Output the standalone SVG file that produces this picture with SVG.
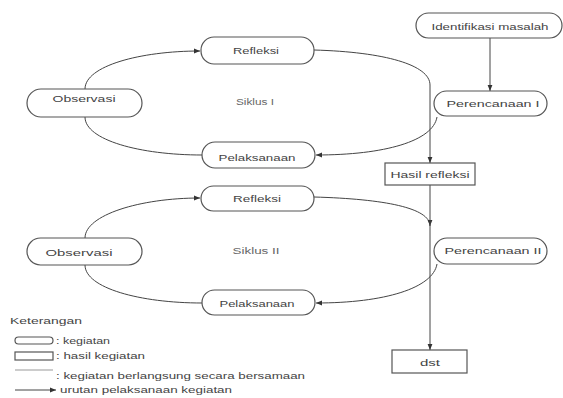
<svg xmlns="http://www.w3.org/2000/svg" width="563" height="398" viewBox="0 0 563 398">
<defs>
<marker id="arr" viewBox="0 0 10 10" refX="10" refY="5" markerWidth="6" markerHeight="6" markerUnits="userSpaceOnUse" orient="auto">
<path d="M0,1 L10,5 L0,9 Z" fill="#333"/>
</marker>
<style>
.n{fill:#fff;stroke:#555;stroke-width:1.2}
.t{font-family:"Liberation Sans",Arial,sans-serif;font-size:9px;fill:#444;text-anchor:middle}
.s{font-family:"Liberation Sans",Arial,sans-serif;font-size:8.5px;fill:#666;text-anchor:middle}
.l{font-family:"Liberation Sans",Arial,sans-serif;font-size:9px;fill:#444}
.c{fill:none;stroke:#444;stroke-width:1}
.a{fill:none;stroke:#444;stroke-width:1;marker-end:url(#arr)}
</style>
</defs>
<rect width="563" height="398" fill="#fff"/>

<g id="connectors">
<path class="a" d="M490,38 L490,91"/>
<path class="a" d="M85,89 C85,66 140,51 200,51"/>
<path class="c" d="M85,117 C85,140 140,155 202,155"/>
<path class="a" d="M314,50 C385,52 430,65 430,85 L430,163"/>
<path class="a" d="M437,117 C433,141 385,155 316,155"/>
<path class="a" d="M85,238 C85,215 140,198 200,198"/>
<path class="c" d="M85,265 C85,288 140,303 202,303"/>
<path class="a" d="M314,197 C385,199 430,208 430,226"/>
<path class="a" d="M430,185 L430,350"/>
<path class="a" d="M437,264 C433,288 385,303 316,303"/>
</g>

<g id="identifikasi">
<rect class="n" x="416" y="13" width="146" height="25" rx="12.5"/>
<text class="t" x="490" y="29.5" textLength="117" lengthAdjust="spacingAndGlyphs">Identifikasi masalah</text>
</g>
<g id="perencanaan1">
<rect class="n" x="434" y="91" width="113" height="25" rx="12.5"/>
<text class="t" x="493" y="106.5" textLength="93" lengthAdjust="spacingAndGlyphs">Perencanaan I</text>
</g>
<g id="refleksi1">
<rect class="n" x="201" y="37" width="113" height="27" rx="13"/>
<text class="t" x="256" y="53.5" textLength="46" lengthAdjust="spacingAndGlyphs">Refleksi</text>
</g>
<g id="observasi1">
<rect class="n" x="27" y="89" width="115" height="28" rx="14"/>
<text class="t" x="84" y="102" textLength="63" lengthAdjust="spacingAndGlyphs">Observasi</text>
</g>
<g id="siklus1">
<text class="s" x="255" y="105" textLength="38" lengthAdjust="spacingAndGlyphs">Siklus I</text>
</g>
<g id="pelaksanaan1">
<rect class="n" x="202" y="142" width="113" height="26" rx="13"/>
<text class="t" x="257" y="160.5" textLength="77" lengthAdjust="spacingAndGlyphs">Pelaksanaan</text>
</g>
<g id="hasil">
<rect class="n" x="385" y="163" width="90" height="22"/>
<text class="t" x="430" y="177.5" textLength="79" lengthAdjust="spacingAndGlyphs">Hasil refleksi</text>
</g>
<g id="refleksi2">
<rect class="n" x="201" y="186" width="113" height="25" rx="12.5"/>
<text class="t" x="257" y="201.5" textLength="48" lengthAdjust="spacingAndGlyphs">Refleksi</text>
</g>
<g id="perencanaan2">
<rect class="n" x="434" y="238" width="113" height="26" rx="13"/>
<text class="t" x="493" y="254" textLength="97" lengthAdjust="spacingAndGlyphs">Perencanaan II</text>
</g>
<g id="observasi2">
<rect class="n" x="27" y="238" width="115" height="27" rx="13.5"/>
<text class="t" x="79" y="255.5" textLength="67" lengthAdjust="spacingAndGlyphs">Observasi</text>
</g>
<g id="siklus2">
<text class="s" x="256" y="254" textLength="47" lengthAdjust="spacingAndGlyphs">Siklus II</text>
</g>
<g id="pelaksanaan2">
<rect class="n" x="202" y="290" width="113" height="25" rx="12.5"/>
<text class="t" x="257" y="306.5" textLength="75" lengthAdjust="spacingAndGlyphs">Pelaksanaan</text>
</g>
<g id="dst">
<rect class="n" x="392" y="350" width="75" height="23"/>
<text class="t" x="430" y="365.5" textLength="20" lengthAdjust="spacingAndGlyphs">dst</text>
</g>

<g id="legend">
<text class="l" x="10" y="324" textLength="72" lengthAdjust="spacingAndGlyphs">Keterangan</text>
<rect class="n" x="15" y="337" width="38" height="7" rx="3.5" stroke-width="1"/>
<text class="l" x="56" y="344" textLength="54" lengthAdjust="spacingAndGlyphs">: kegiatan</text>
<rect class="n" x="15" y="352" width="38" height="8" stroke-width="1"/>
<text class="l" x="56" y="359" textLength="89" lengthAdjust="spacingAndGlyphs">: hasil kegiatan</text>
<line x1="15" y1="370" x2="53" y2="370" stroke="#999" stroke-width="1"/>
<text class="l" x="56" y="379" textLength="249" lengthAdjust="spacingAndGlyphs">: kegiatan berlangsung secara bersamaan</text>
<line x1="15" y1="390" x2="56" y2="390" class="a"/>
<text class="l" x="60" y="393" textLength="172" lengthAdjust="spacingAndGlyphs">urutan pelaksanaan kegiatan</text>
</g>
</svg>
